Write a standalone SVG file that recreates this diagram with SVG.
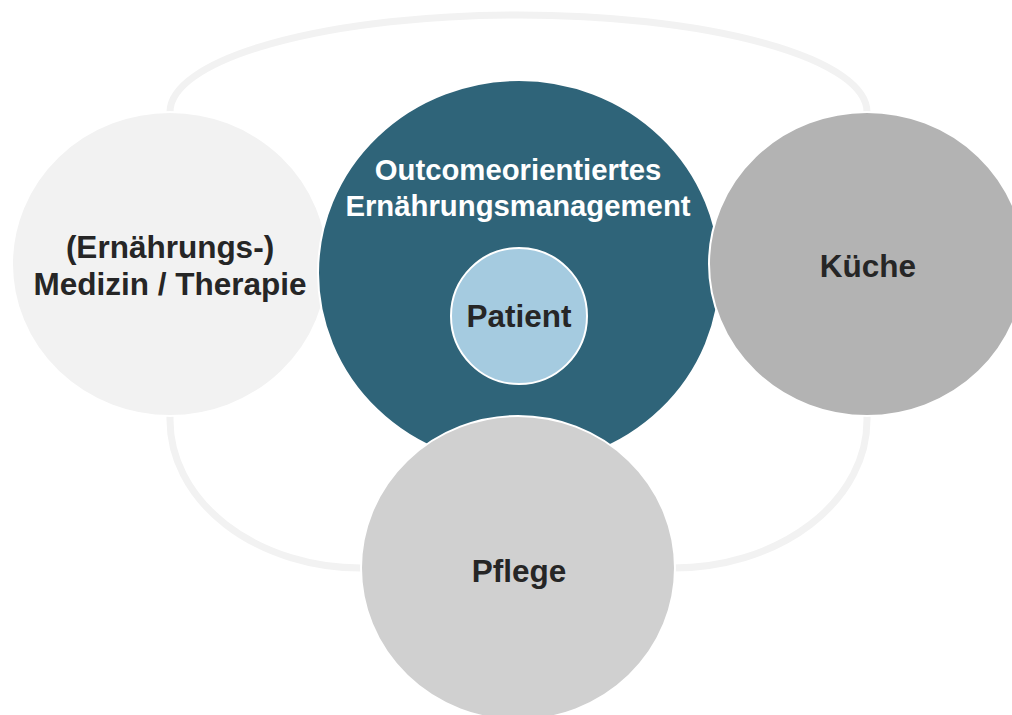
<svg xmlns="http://www.w3.org/2000/svg" width="1012" height="715" viewBox="0 0 1012 715">
<style>
.node{stroke:#ffffff;stroke-width:2}
.lbl{font-family:"Liberation Sans",Arial,sans-serif;font-weight:bold;font-size:31.5px;text-anchor:middle;fill:#262626}
.wl{fill:#ffffff;font-size:29.3px}
</style>
<rect width="1012" height="715" fill="#ffffff"/>
<g id="connectors">
<path d="M170,112 A348,97 0 0 1 867,112 L867,420 A194,148 0 0 1 673,568 L361,568 A191,148 0 0 1 170,420 Z" fill="none" stroke="#f2f2f2" stroke-width="7"/>
</g>
<g id="medizin">
<ellipse class="node" cx="170" cy="264" rx="158" ry="152" fill="#f2f2f2"/>
<text class="lbl" x="170" y="258">(Ernährungs-)</text>
<text class="lbl" x="170" y="295">Medizin / Therapie</text>
</g>
<g id="management">
<ellipse class="node" cx="519" cy="273" rx="201" ry="193" fill="#2f6479"/>
<text class="lbl wl" x="518" y="180">Outcomeorientiertes</text>
<text class="lbl wl" x="518" y="216">Ernährungsmanagement</text>
</g>
<g id="kueche">
<ellipse class="node" cx="867" cy="264" rx="158" ry="152" fill="#b3b3b3"/>
<text class="lbl" x="868" y="277">Küche</text>
</g>
<g id="pflege">
<ellipse class="node" cx="518" cy="568" rx="157" ry="152" fill="#d0d0d0"/>
<text class="lbl" x="519" y="582">Pflege</text>
</g>
<g id="patient">
<circle class="node" cx="519" cy="316" r="68" fill="#a5cbe0"/>
<text class="lbl" x="519" y="327">Patient</text>
</g>
</svg>
